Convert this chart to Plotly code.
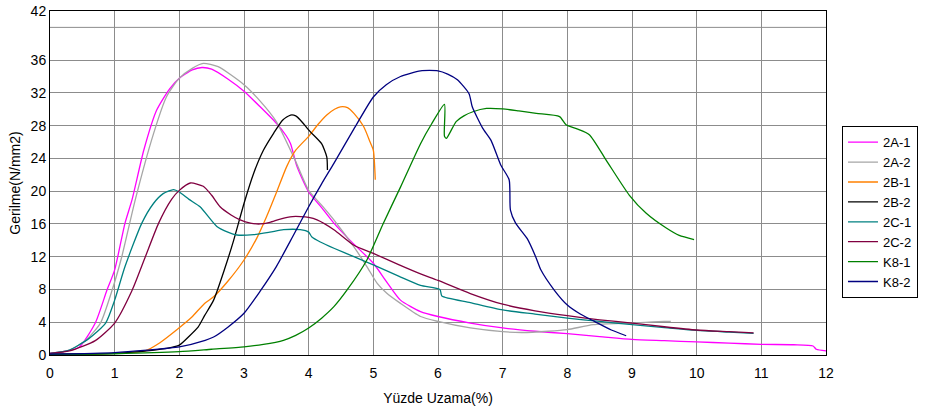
import plotly.graph_objects as go

# ---- data ----
a1_x = [0, 0.2, 0.45, 0.7, 0.88, 1.0, 1.16, 1.27, 1.45, 1.65, 1.85, 2.0, 2.2, 2.35, 2.5, 2.75, 3.0, 3.25, 3.5, 3.65, 3.72, 3.82, 4.0, 4.2, 4.39, 4.64, 5.0, 5.2, 5.42, 5.73, 6.0, 6.5, 7.0, 7.5, 8.0, 8.5, 9.0, 9.5, 10.0, 10.5, 11.0, 11.5, 11.8, 11.85, 12.0]
a1_y = [0.2, 0.4, 0.94, 3.9, 7.9, 10.4, 16.1, 19.0, 25.0, 29.9, 32.5, 33.8, 34.8, 35.1, 34.9, 33.7, 32.2, 30.3, 28.3, 26.8, 25.8, 23.0, 19.9, 18.0, 16.1, 14.0, 11.2, 9.0, 6.7, 5.3, 4.7, 3.9, 3.3, 2.9, 2.6, 2.25, 1.9, 1.75, 1.6, 1.45, 1.3, 1.25, 1.1, 0.7, 0.5]

a2_x = [0, 0.3, 0.55, 0.78, 0.96, 1.11, 1.32, 1.6, 1.8, 2.0, 2.2, 2.37, 2.6, 3.0, 3.25, 3.5, 3.79, 4.0, 4.2, 4.39, 4.7, 4.9, 5.06, 5.2, 5.42, 5.73, 6.0, 6.5, 7.0, 7.3, 7.7, 8.0, 8.4, 9.0, 9.5, 9.6]
a2_y = [0.2, 0.6, 1.76, 3.9, 7.9, 12.0, 19.0, 27.0, 31.5, 33.8, 35.0, 35.6, 35.2, 33.0, 31.0, 28.5, 23.8, 20.1, 18.3, 16.5, 13.2, 10.8, 8.75, 7.6, 6.3, 4.7, 4.1, 3.3, 2.85, 2.75, 2.9, 3.1, 3.7, 3.9, 4.1, 4.1]

b1_x = [0, 0.5, 1.0, 1.2, 1.47, 1.7, 1.98, 2.19, 2.39, 2.53, 2.75, 3.0, 3.2, 3.35, 3.5, 3.66, 3.8, 4.0, 4.15, 4.28, 4.4, 4.49, 4.6, 4.7, 4.85, 4.95, 5.0, 5.03]
b1_y = [0.1, 0.1, 0.2, 0.3, 0.5, 1.5, 3.2, 4.6, 6.3, 7.1, 9.0, 11.6, 14.3, 16.9, 19.8, 23.0, 25.0, 26.7, 28.2, 29.3, 30.0, 30.3, 30.2, 29.5, 27.9, 26.0, 25.0, 21.4]

b2_x = [0, 0.5, 1.0, 1.5, 1.88, 2.0, 2.14, 2.29, 2.39, 2.53, 2.7, 2.84, 3.0, 3.15, 3.3, 3.46, 3.6, 3.72, 3.8, 3.87, 4.02, 4.2, 4.28, 4.29]
b2_y = [0.1, 0.1, 0.2, 0.5, 0.94, 1.2, 2.2, 3.4, 4.8, 6.7, 10.5, 14.0, 18.5, 22.2, 25.0, 27.1, 28.7, 29.3, 29.2, 28.7, 27.3, 25.8, 24.2, 22.6]

c1_x = [0, 0.3, 0.6, 0.86, 1.0, 1.16, 1.42, 1.6, 1.75, 1.91, 2.0, 2.15, 2.32, 2.58, 2.75, 2.89, 3.15, 3.4, 3.61, 3.87, 4.0, 4.05, 4.18, 4.4, 4.7, 5.0, 5.4, 5.73, 6.03, 6.06, 6.5, 7.0, 7.5, 8.0, 8.5, 9.0, 9.5, 10.0, 10.5, 10.88]
c1_y = [0.2, 0.6, 2.0, 3.9, 6.7, 10.8, 16.1, 18.5, 19.7, 20.2, 19.9, 19.0, 18.1, 15.7, 15.0, 14.65, 14.7, 15.0, 15.3, 15.3, 15.0, 14.4, 13.8, 13.0, 12.0, 11.0, 9.6, 8.5, 8.0, 7.2, 6.4, 5.5, 5.0, 4.5, 4.1, 3.7, 3.35, 3.0, 2.8, 2.65]

c2_x = [0, 0.3, 0.7, 1.0, 1.27, 1.47, 1.68, 1.88, 2.0, 2.17, 2.37, 2.5, 2.63, 2.8, 2.94, 3.1, 3.25, 3.4, 3.56, 3.75, 3.87, 4.0, 4.13, 4.39, 4.7, 5.0, 5.4, 5.73, 6.0, 6.5, 7.0, 7.5, 8.0, 8.5, 9.0, 9.5, 10.0, 10.5, 10.88]
c2_y = [0.2, 0.5, 1.76, 3.9, 7.9, 11.9, 16.1, 19.0, 20.1, 21.0, 20.6, 19.5, 18.1, 17.1, 16.5, 16.1, 16.0, 16.2, 16.6, 16.9, 16.9, 16.8, 16.5, 15.3, 13.4, 12.4, 11.0, 9.9, 9.1, 7.5, 6.2, 5.4, 4.8, 4.3, 3.9, 3.45, 3.05, 2.85, 2.7]

k1_x = [0, 1.0, 2.0, 2.5, 3.0, 3.3, 3.61, 3.8, 4.0, 4.2, 4.39, 4.6, 4.9, 5.15, 5.42, 5.73, 5.9, 6.1, 6.1, 6.13, 6.28, 6.4, 6.54, 6.75, 7.0, 7.25, 7.52, 7.88, 7.98, 8.15, 8.34, 8.6, 8.96, 9.22, 9.53, 9.73, 9.96]
k1_y = [0.05, 0.15, 0.4, 0.7, 1.0, 1.3, 1.8, 2.4, 3.3, 4.5, 5.9, 8.0, 11.6, 16.0, 20.5, 25.8, 28.2, 30.6, 26.7, 26.45, 28.5, 29.2, 29.7, 30.1, 30.05, 29.8, 29.5, 29.1, 28.1, 27.6, 26.9, 23.8, 19.5, 17.3, 15.5, 14.6, 14.1]

k2_x = [0, 1.0, 1.5, 2.0, 2.4, 2.53, 2.75, 3.0, 3.25, 3.5, 3.75, 4.0, 4.2, 4.39, 4.7, 5.0, 5.2, 5.42, 5.73, 6.0, 6.15, 6.3, 6.48, 6.53, 6.69, 6.82, 6.97, 7.1, 7.12, 7.2, 7.38, 7.51, 7.59, 7.8, 8.0, 8.2, 8.42, 8.68, 8.91]
k2_y = [0.1, 0.3, 0.6, 1.0, 1.8, 2.2, 3.4, 5.1, 7.8, 10.8, 14.4, 18.1, 20.9, 23.4, 27.6, 31.5, 33.0, 34.0, 34.7, 34.7, 34.3, 33.6, 31.9, 30.3, 27.7, 26.2, 23.2, 21.4, 17.7, 16.1, 14.2, 12.0, 10.4, 7.9, 6.1, 5.0, 4.1, 3.05, 2.35]

series_names = ["2A-1", "2A-2", "2B-1", "2B-2", "2C-1", "2C-2", "K8-1", "K8-2"]
series_x = [a1_x, a2_x, b1_x, b2_x, c1_x, c2_x, k1_x, k2_x]
series_y = [a1_y, a2_y, b1_y, b2_y, c1_y, c2_y, k1_y, k2_y]
series_colors = ["#FF00FF", "#A6A6A6", "#FF8000", "#000000", "#008080", "#800040", "#008000", "#000080"]

y_tickvals = [0, 4, 8, 12, 16, 20, 24, 28, 32, 36, 42]
y_ticktext = ["0", "4", "8", "12", "16", "20", "24", "28", "32", "36", "42"]
y_extra_grid = [40]
x_tickvals = list(range(0, 13))

grid_color = "#8C8C8C"

fig = go.Figure()
for name, xs, ys, col in zip(series_names, series_x, series_y, series_colors):
    fig.add_trace(go.Scatter(x=xs, y=ys, mode="lines", name=name,
                             line=dict(color=col, width=1.3, shape="spline", smoothing=0.6)))

for gy in y_extra_grid:
    fig.add_shape(type="line", xref="x", yref="y", x0=0, x1=12, y0=gy, y1=gy,
                  line=dict(color=grid_color, width=1), layer="above")

font_family = "Liberation Sans, Arial, sans-serif"
fig.update_layout(
    width=939, height=409,
    margin=dict(l=50, r=113, t=11, b=54, autoexpand=False),
    paper_bgcolor="white", plot_bgcolor="white",
    font=dict(family=font_family, size=14, color="#000000"),
    showlegend=True,
    legend=dict(x=1.0206, y=0.665, xanchor="left", yanchor="top",
                bordercolor="#000000", borderwidth=1, bgcolor="white",
                font=dict(size=13, family=font_family), tracegroupgap=0),
    xaxis=dict(range=[0, 12], tickvals=x_tickvals, showgrid=True, automargin=False,
               gridcolor=grid_color, gridwidth=1, zeroline=False,
               showline=True, linecolor="#000000", linewidth=1, mirror=True,
               ticks="", tickfont=dict(size=14), ticklabelstandoff=5,
               title=dict(text="Yüzde Uzama(%)", standoff=13, font=dict(size=14))),
    yaxis=dict(range=[0, 42], tickvals=y_tickvals, ticktext=y_ticktext, automargin=False,
               showgrid=True, gridcolor=grid_color, gridwidth=1, zeroline=False,
               showline=True, linecolor="#000000", linewidth=1, mirror=True,
               ticks="", tickfont=dict(size=14), ticklabeloverflow="allow",
               title=dict(text="Gerilme(N/mm2)", standoff=6, font=dict(size=14))),
)

fig.write_html("out.html", config={"displayModeBar": False},
               post_script="document.body.style.margin='0';")
